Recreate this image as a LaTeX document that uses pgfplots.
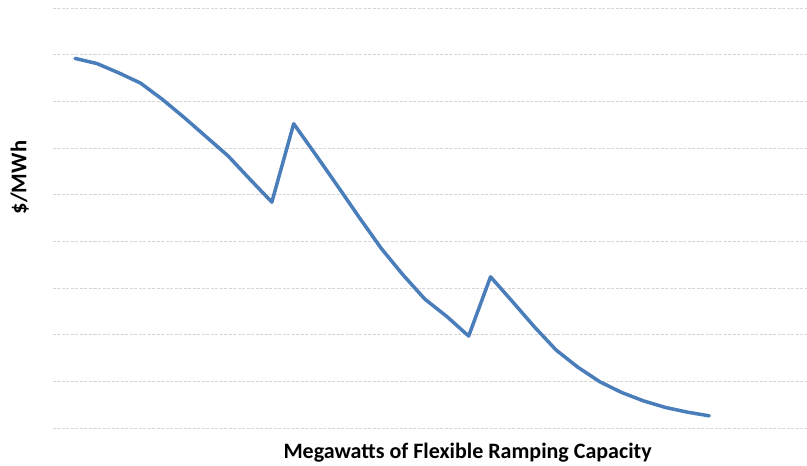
\documentclass[border=0pt]{standalone}
\usepackage{pgfplots}
\pgfplotsset{compat=1.18}
\usepackage{fontspec}
\setmainfont{Carlito}
\definecolor{seriesblue}{HTML}{4A7EBB}
\definecolor{gridgray}{HTML}{D6D6D6}

\begin{document}
\begin{tikzpicture}[x=1pt,y=1pt]
\path[use as bounding box] (0,0) rectangle (807,466);
\begin{axis}[
  at={(53pt,38pt)}, anchor=south west,
  scale only axis,
  width=754pt, height=420pt,
  xmin=-1.006, xmax=33.47,
  ymin=0, ymax=90,
  ytick={0,10,...,90},
  xtick=\empty,
  yticklabels={},
  major tick length=0pt,
  axis line style={draw=none},
  ymajorgrids,
  grid style={gridgray, line width=0.8pt, dash pattern=on 3pt off 1.5pt},
  clip=false,
]
\addplot[seriesblue, line width=3.5pt, line join=round, line cap=round] coordinates {
  (0,79.2) (1,78.1) (2,76.1) (3,73.9) (4,70.4) (5,66.5) (6,62.4) (7,58.3)
  (8,53.3) (9,48.4) (10,65.2) (11,58.6) (12,51.9) (13,45.1) (14,38.5)
  (15,32.8) (16,27.6) (17,23.9) (18,19.7) (19,32.4) (20,27.1) (21,21.7)
  (22,16.7) (23,13.0) (24,9.9) (25,7.6) (26,5.8) (27,4.4) (28,3.4) (29,2.6)
};
\end{axis}
\node[anchor=base west, inner sep=0pt, font=\fontsize{22}{26}\selectfont\bfseries]
  at (283.3,7.7) {Megawatts of Flexible Ramping Capacity};
\node[anchor=base west, rotate=90, inner sep=0pt, font=\fontsize{22.5}{26}\selectfont\bfseries]
  at (26.5,251.7) {\$/MWh};
\end{tikzpicture}
\end{document}
